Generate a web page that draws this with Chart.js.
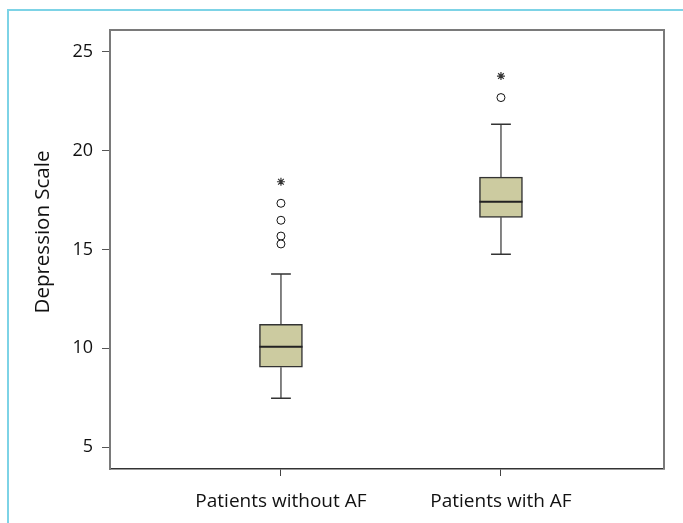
<!DOCTYPE html>
<html>
<head>
<meta charset="utf-8">
<script src="https://cdn.jsdelivr.net/npm/chart.js@4/dist/chart.umd.min.js"></script>
<style>
  html, body { margin: 0; padding: 0; background: #fff; overflow: hidden; }
  #frame { position: absolute; left: 7px; top: 9px; width: 720px; height: 560px;
           border-left: 2px solid #7dd3e6; border-top: 2px solid #7dd3e6; }
  #wrap { position: absolute; left: 0; top: 0; width: 683px; height: 523px; }
</style>
</head>
<body>
<div id="frame"></div>
<div id="wrap"><canvas id="c" width="683" height="523"></canvas></div>
<script>
// ---- data ----
const categories = ['Patients without AF', 'Patients with AF'];
const yTicks = [5, 10, 15, 20, 25];
const yTitle = 'Depression Scale';
const whiskerLow  = [7.47, 14.76];
const q1          = [9.04, 16.63];
const median      = [10.08, 17.42];
const q3          = [11.21, 18.66];
const whiskerHigh = [13.76, 21.34];
const outliersCircle = [[17.34, 16.48, 15.68, 15.28], [22.69]];
const outliersStar   = [[18.43], [23.78]];

// ---- build datasets ----
const capHalf = 0.045, boxHalf = 0.098;
const boxData = categories.map((c, i) => ({ x: i, y: [q1[i], q3[i]] }));
const stems = [], caps = [], meds = [], circ = [], stars = [];
categories.forEach((c, i) => {
  stems.push({x: i, y: whiskerLow[i]}, {x: i, y: q1[i]}, {x: i, y: null},
             {x: i, y: q3[i]}, {x: i, y: whiskerHigh[i]}, {x: i, y: null});
  caps.push({x: i - capHalf, y: whiskerLow[i]}, {x: i + capHalf, y: whiskerLow[i]}, {x: i, y: null},
            {x: i - capHalf, y: whiskerHigh[i]}, {x: i + capHalf, y: whiskerHigh[i]}, {x: i, y: null});
  meds.push({x: i - boxHalf, y: median[i]}, {x: i + boxHalf, y: median[i]}, {x: i, y: null});
  outliersCircle[i].forEach(v => circ.push({x: i, y: v}));
  outliersStar[i].forEach(v => stars.push({x: i, y: v}));
});

const FONT = '"Open Sans", "DejaVu Sans", sans-serif';

const framePlugin = {
  id: 'framePlugin',
  afterDraw(chart) {
    const {ctx, chartArea: a} = chart;
    ctx.save();
    ctx.strokeStyle = '#7a7a7a';
    ctx.lineWidth = 2;
    ctx.beginPath();
    ctx.moveTo(a.left, a.top);
    ctx.lineTo(a.right, a.top);
    ctx.lineTo(a.right, a.bottom);
    ctx.stroke();
    // y axis title
    ctx.fillStyle = '#111';
    ctx.font = '20.5px ' + FONT;
    ctx.textAlign = 'center';
    ctx.textBaseline = 'middle';
    ctx.translate(43, 232);
    ctx.rotate(-Math.PI / 2);
    ctx.fillText(yTitle, 0, 0);
    ctx.restore();
  }
};

new Chart(document.getElementById('c'), {
  type: 'bar',
  data: {
    datasets: [
      { type: 'line', data: meds, borderColor: '#222', borderWidth: 2, pointRadius: 0, spanGaps: false, order: 0 },
      { type: 'scatter', data: circ, pointStyle: 'circle', pointRadius: 4, pointBackgroundColor: '#fff',
        pointBorderColor: '#111', pointBorderWidth: 1, order: 0 },
      { type: 'scatter', data: stars, pointStyle: 'star', pointRadius: 4,
        pointBorderColor: '#333', pointBorderWidth: 1.2, order: 0 },
      { type: 'line', data: caps, borderColor: '#333', borderWidth: 1.6, pointRadius: 0, spanGaps: false, order: 1 },
      { type: 'bar', data: boxData, backgroundColor: '#cccba0', borderColor: '#333', borderWidth: 1.5,
        borderSkipped: false, barThickness: 43, order: 2 },
      { type: 'line', data: stems, borderColor: '#666', borderWidth: 1.6, pointRadius: 0, spanGaps: false, order: 3 }
    ]
  },
  options: {
    responsive: false,
    animation: false,
    events: [],
    layout: { padding: { top: 30, right: 19, left: 0, bottom: 0 } },
    plugins: { legend: { display: false }, tooltip: { enabled: false } },
    scales: {
      x: {
        type: 'linear',
        offset: false,
        min: -0.777, max: 1.741,
        afterBuildTicks: s => { s.ticks = categories.map((c, i) => ({ value: i })); },
        afterFit: s => { s.height = 54; },
        ticks: {
          callback: v => categories[v] ?? '',
          color: '#111', font: { family: FONT, size: 19 }, padding: 14, maxRotation: 0, autoSkip: false
        },
        grid: { offset: false, drawOnChartArea: false, tickLength: 7, tickColor: '#444', tickWidth: 1 },
        border: { color: '#333', width: 1.5 }
      },
      y: {
        min: 3.89, max: 26.11,
        afterBuildTicks: s => { s.ticks = yTicks.map(v => ({ value: v })); },
        afterFit: s => { s.width = 110; },
        ticks: { color: '#111', font: { family: FONT, size: 18 }, padding: 9 },
        grid: { drawOnChartArea: false, tickLength: 8, tickColor: '#555', tickWidth: 1 },
        border: { color: '#7a7a7a', width: 2 }
      }
    }
  },
  plugins: [framePlugin]
});
</script>
</body>
</html>
